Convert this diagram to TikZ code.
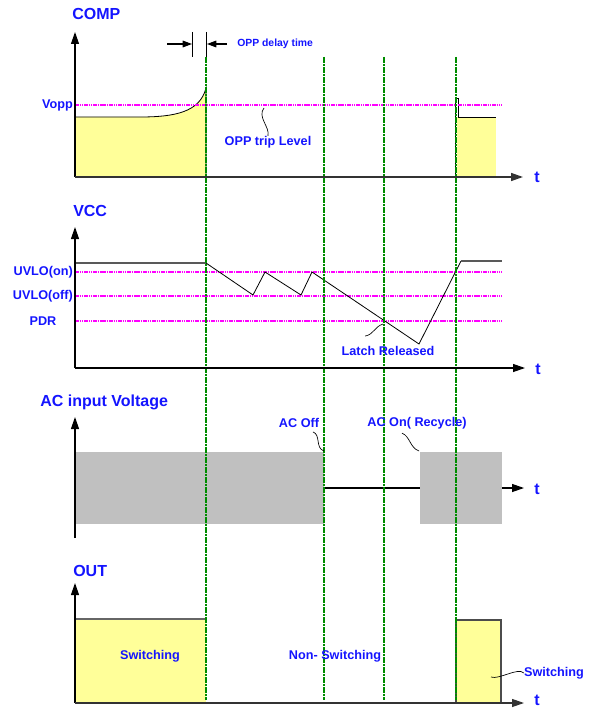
\documentclass[tikz,border=0pt]{standalone}
\usepackage{fontspec}
\setmainfont{Liberation Sans}
\usepackage{xcolor}
\usepackage{tikz}
\usetikzlibrary{arrows.meta,calc,positioning}

\definecolor{sigblue}{RGB}{20,20,255}
\definecolor{lvlpink}{RGB}{255,0,255}
\definecolor{evtgreen}{RGB}{0,140,0}
\definecolor{swyellow}{RGB}{255,255,153}
\definecolor{acgray}{RGB}{192,192,192}

\tikzset{
  ttl/.style={font=\bfseries\fontsize{12}{14}\selectfont,text=sigblue,inner sep=0pt},
  lbl/.style={font=\bfseries\fontsize{9.5}{11}\selectfont,text=sigblue,inner sep=0pt},
  axis/.style={line width=0.9pt,-{Triangle[length=9pt,width=6pt]}},
  lvl/.style={lvlpink,line width=1.3pt,dash pattern=on 1.2pt off 0.5pt},
  evt/.style={evtgreen,line width=1.2pt,dash pattern=on 2pt off 0.5pt},
  sig/.style={black,line width=0.6pt},
  squig/.style={black,line width=0.5pt}
}

\begin{document}
\begin{tikzpicture}[x=0.75pt,y=-0.75pt]
  \useasboundingbox (0,0) rectangle (590,709);

  % COMP
  \node[ttl,anchor=west] (compT) at (72,14) {COMP};
  \fill[swyellow] (75,177) -- (75,117) -- (140,117) .. controls (175,117) and (200,112) .. (206,88) -- (206,177) -- cycle;
  \fill[swyellow] (457,117) rectangle (496,177);
  \draw[sig] (75,117) -- (140,117) .. controls (175,117) and (200,112) .. (206,88) -- (206,177);
  \draw[sig] (455,177) -- (455,98) -- (458,98) -- (458,117) -- (496,117);
  \draw[lvl] (75,105) -- (502,105);
  \node[lbl,anchor=east] (vopp) at (73,105) {Vopp};

  % VCC
  \node[ttl,anchor=west] (vccT) at (73,211) {VCC};
  \draw[lvl] (75,272) -- (502,272);
  \draw[lvl] (75,296) -- (502,296);
  \draw[lvl] (75,321) -- (502,321);
  \node[lbl,anchor=east] (uon) at (73,272) {UVLO(on)};
  \node[lbl,anchor=east] (uoff) at (73,296) {UVLO(off)};
  \node[lbl] (pdr) at (43,321) {PDR};
  \draw[sig] (206,263) -- (253,295) -- (265,272) -- (301,295) -- (312,272) -- (419,344) -- (461,261);
  \draw[black!65,line width=1pt] (75,263) -- (206,263);
  \draw[black!65,line width=1pt] (461,261) -- (502,261);

  % AC input
  \node[ttl,anchor=west] (acT) at (40,402) {AC input Voltage};
  \draw[axis] (75,488) -- (524,488);
  \fill[acgray] (75,452) rectangle (324,524);
  \fill[acgray] (420,452) rectangle (502,524);

  % OUT
  \node[ttl,anchor=west] (outT) at (73,571) {OUT};
  \fill[swyellow] (75,619) rectangle (206,703);
  \fill[swyellow] (456,620) rectangle (501,703);
  \draw[black!60,line width=1pt] (75,619) -- (206,619);
  \draw[black!70,line width=0.8pt] (456,703) -- (456,620) -- (501,620) -- (501,703);

  % events
  \foreach \ex in {206,324,384,456}
    \draw[evt] (\ex,57) -- (\ex,700);

  % axes
  \draw[axis] (75,177) -- (75,32);
  \draw[axis,black!80,line width=1.1pt] (75,177) -- (523,177);
  \draw[axis] (75,368) -- (75,227);
  \draw[axis] (75,368) -- (525,368);
  \draw[axis] (75,538) -- (75,417);
  \draw[axis] (75,703) -- (75,583);
  \draw[axis,black!80] (75,703) -- (524,703);
  \node[ttl] (t1) at (537,177) {t};
  \node[ttl] (t2) at (538,369) {t};
  \node[ttl] (t3) at (537,489) {t};
  \node[ttl] (t4) at (537,700) {t};

  % OPP delay
  \coordinate (dlyA) at (192,32);
  \coordinate (dlyB) at (206,32);
  \draw[line width=0.6pt] (dlyA) -- ++(0,25);
  \draw[line width=0.6pt] (dlyB) -- ++(0,25);
  \draw[line width=0.8pt,-{Triangle[length=7pt,width=5pt]}] ($(dlyA)+(-25,12)$) -- ($(dlyA)+(0,12)$);
  \draw[line width=0.8pt,-{Triangle[length=7pt,width=5pt]}] ($(dlyB)+(21,12)$) -- ($(dlyB)+(1,12)$);
  \node[lbl,font=\bfseries\fontsize{7.8}{9}\selectfont,anchor=west] (dlyT) at (237,44) {OPP delay time};

  % annotations
  \node[lbl] (tripT) at (268,142) {OPP trip Level};
  \coordinate (tripP) at (264,108);
  \draw[squig] (tripP) .. controls +(-7,9) and +(2,-9) .. (tripT.north);

  \node[lbl] (latchT) at (388,351) {Latch Released};
  \coordinate (latchP) at (383,324);
  \draw[squig] (latchP) .. controls +(-9,3) and +(9,-2) .. ($(latchT.north west)+(24,-10)$);

  \node[lbl] (acOffT) at (299,423) {AC Off};
  \coordinate (acOffP) at (324,451);
  \draw[squig] ($(acOffT.south)+(14,4)$) .. controls +(8,3) and +(-9,-3) .. (acOffP);

  \node[lbl] (acOnT) at (417,423) {AC On( Recycle)};
  \coordinate (acOnP) at (419,451);
  \draw[squig] ($(acOnT.south)+(-15,4)$) .. controls +(8,3) and +(-9,-3) .. (acOnP);

  \node[lbl] (swL) at (150,656) {Switching};
  \node[lbl] (nsw) at (335,656) {Non- Switching};
  \node[lbl] (swR) at (554,673) {Switching};
  \coordinate (swP) at (491,677);
  \draw[squig] (swP) .. controls +(8,3) and +(-6,-6) .. (swR.west);
\end{tikzpicture}
\end{document}
